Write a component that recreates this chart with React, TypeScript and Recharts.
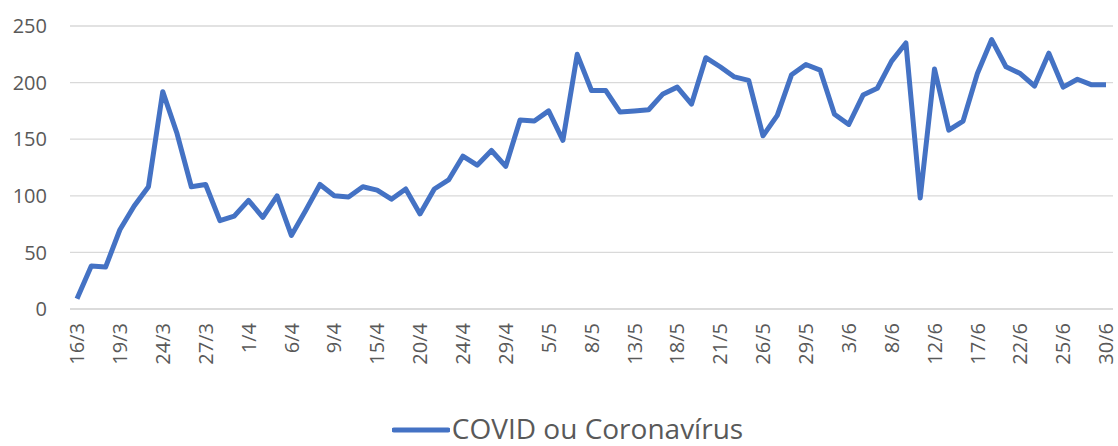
import { LineChart, Line, XAxis, YAxis, CartesianGrid, Legend } from 'recharts'

const dates = [
  '16/3', '17/3', '18/3', '19/3', '20/3', '23/3', '24/3', '25/3', '26/3', '27/3', '30/3', '31/3',
  '1/4', '2/4', '3/4', '6/4', '7/4', '8/4', '9/4', '13/4', '14/4', '15/4', '16/4', '17/4', '20/4',
  '22/4', '23/4', '24/4', '27/4', '28/4', '29/4', '30/4',
  '4/5', '5/5', '6/5', '7/5', '8/5', '11/5', '12/5', '13/5', '14/5', '15/5', '18/5', '19/5', '20/5',
  '21/5', '22/5', '25/5', '26/5', '27/5', '28/5', '29/5',
  '1/6', '2/6', '3/6', '4/6', '5/6', '8/6', '9/6', '10/6', '12/6', '15/6', '16/6', '17/6', '18/6',
  '19/6', '22/6', '23/6', '24/6', '25/6', '26/6', '29/6', '30/6',
]

const covid = [
  9, 38, 37, 70, 91, 108, 192, 155, 108, 110,
  78, 82, 96, 81, 100, 65, 87, 110, 100, 99,
  108, 105, 97, 106, 84, 106, 114, 135, 127, 140,
  126, 167, 166, 175, 149, 225, 193, 193, 174, 175,
  176, 190, 196, 181, 222, 214, 205, 202, 153, 171,
  207, 216, 211, 172, 163, 189, 195, 219, 235, 98,
  212, 158, 166, 208, 238, 214, 208, 197, 226, 196,
  203, 198, 198,
]

const yTicks = [0, 50, 100, 150, 200, 250]

const seriesName = 'COVID ou Coronavírus'

const data = dates.map((d, i) => ({ date: d, covid: covid[i] }))

const FONT = '"Open Sans", sans-serif'
const GREY = '#595959'
const BLUE = '#4472C4'

function DateTick(props: any) {
  const { x, y, payload } = props
  return (
    <text
      x={x}
      y={y}
      transform={`rotate(-90, ${x}, ${y})`}
      textAnchor="end"
      dy="0.36em"
      fill={GREY}
      fontSize={20}
      fontFamily={FONT}
    >
      {payload.value}
    </text>
  )
}

function LegendBox() {
  return (
    <div
      style={{
        height: 28,
        display: 'flex',
        justifyContent: 'center',
        alignItems: 'center',
        paddingLeft: 22,
        fontFamily: FONT,
        fontSize: 28,
        lineHeight: '28px',
        color: GREY,
      }}
    >
      <svg width={58} height={10} style={{ marginRight: 2, marginTop: 4 }}>
        <line x1={2} y1={5} x2={56} y2={5} stroke={BLUE} strokeWidth={5} strokeLinecap="round" />
      </svg>
      <span>{seriesName}</span>
    </div>
  )
}

export default function App() {
  return (
    <div style={{ position: 'absolute', left: 0, top: 0, background: '#fff' }}>
      <LineChart width={1118} height={446} data={data} margin={{ top: 26, right: 5, bottom: 0, left: 0 }}>
        <CartesianGrid vertical={false} stroke="#d9d9d9" strokeWidth={1.3} />
        <XAxis
          dataKey="date"
          interval={2}
          tick={<DateTick />}
          tickLine={false}
          tickSize={0}
          tickMargin={14}
          height={105}
          padding={{ left: 7, right: 7 }}
          axisLine={{ stroke: '#d9d9d9', strokeWidth: 1.3 }}
        />
        <YAxis
          domain={[0, 250]}
          ticks={yTicks}
          width={70}
          axisLine={false}
          tickLine={false}
          tickSize={0}
          tickMargin={23}
          tick={{ fill: GREY, fontSize: 20, fontFamily: FONT }}
        />
        <Legend verticalAlign="bottom" height={32} content={() => <LegendBox />} />
        <Line
          type="linear"
          dataKey="covid"
          name={seriesName}
          stroke={BLUE}
          strokeWidth={5}
          dot={false}
          strokeLinejoin="round"
          isAnimationActive={false}
        />
      </LineChart>
    </div>
  )
}
